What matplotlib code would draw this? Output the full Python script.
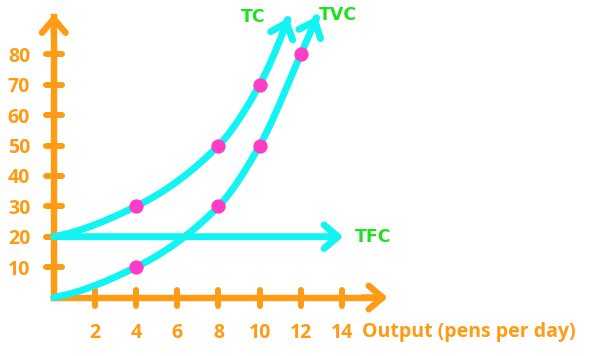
import numpy as np
import matplotlib
matplotlib.use('Agg')
import matplotlib.pyplot as plt
from matplotlib.patches import FancyArrowPatch
from matplotlib.path import Path
from matplotlib.markers import MarkerStyle

# ---- data ----
tvc_output = [0, 4, 8, 10, 12]
tvc = [0, 10, 30, 50, 80]
tc_output = [0, 4, 8, 10]
tc = [20, 30, 50, 70]
tfc_value = 20
tfc_end = 14.2
tc_tip = (11.4, 92.0)
tvc_tip = (12.8, 92.5)
x_ticks = [2, 4, 6, 8, 10, 12, 14]
y_ticks = [10, 20, 30, 40, 50, 60, 70, 80]
x_axis_end = 16.35
y_axis_end = 94.2
x_label = 'Output (pens per day)'
curve_labels = ['TC', 'TVC', 'TFC']

ORANGE = '#FF9A14'
CYAN = '#12F4F4'
MAGENTA = '#FF3CC8'
GREEN = '#1EE01E'


def pchip(xs, ys, n=400):
    """Monotone piecewise cubic Hermite interpolation (for drawing a smooth line)."""
    x = np.asarray(xs, float)
    y = np.asarray(ys, float)
    h = np.diff(x)
    d = np.diff(y) / h
    k = len(x)
    m = np.zeros(k)
    for i in range(1, k - 1):
        if d[i - 1] * d[i] <= 0:
            m[i] = 0
        else:
            w1 = 2 * h[i] + h[i - 1]
            w2 = h[i] + 2 * h[i - 1]
            m[i] = (w1 + w2) / (w1 / d[i - 1] + w2 / d[i])

    def end_slope(h0, h1, d0, d1):
        s = ((2 * h0 + h1) * d0 - h0 * d1) / (h0 + h1)
        if np.sign(s) != np.sign(d0):
            s = 0
        elif np.sign(d0) != np.sign(d1) and abs(s) > abs(3 * d0):
            s = 3 * d0
        return s

    m[0] = end_slope(h[0], h[1], d[0], d[1])
    m[-1] = end_slope(h[-1], h[-2], d[-1], d[-2])
    xx = np.linspace(x[0], x[-1], n)
    idx = np.clip(np.searchsorted(x, xx) - 1, 0, k - 2)
    t = (xx - x[idx]) / h[idx]
    h00 = 2 * t ** 3 - 3 * t ** 2 + 1
    h10 = t ** 3 - 2 * t ** 2 + t
    h01 = -2 * t ** 3 + 3 * t ** 2
    h11 = t ** 3 - t ** 2
    yy = (h00 * y[idx] + h10 * h[idx] * m[idx] + h01 * y[idx + 1]
          + h11 * h[idx] * m[idx + 1])
    return xx, yy


fig = plt.figure(figsize=(5.91, 3.56), dpi=100)
ax = fig.add_axes([0, 0, 1, 1])
ax.set_xlim(-2.614, 26.10)
ax.set_ylim(-19.24, 97.86)

for s in ['top', 'right']:
    ax.spines[s].set_visible(False)
for s in ['left', 'bottom']:
    ax.spines[s].set_position(('data', 0))
    ax.spines[s].set_color(ORANGE)
    ax.spines[s].set_linewidth(4.6)
    ax.spines[s].set_capstyle('projecting')
    ax.spines[s].set_zorder(2)
ax.spines['left'].set_bounds(0, y_axis_end - 2)
ax.spines['bottom'].set_bounds(0, x_axis_end - 0.5)

tick_font = dict(family='Open Sans', weight='bold', size=14)
ax.set_xticks(x_ticks)
ax.set_xticklabels([str(v) for v in x_ticks], fontdict=tick_font)
ax.set_yticks(y_ticks)
ax.set_yticklabels([str(v) for v in y_ticks], fontdict=tick_font)
ax.tick_params(axis='both', direction='inout', length=12, width=4.3,
               color=ORANGE, labelcolor=ORANGE)
ax.tick_params(axis='x', pad=12)
ax.tick_params(axis='y', pad=11)
for t in ax.xaxis.get_major_ticks():
    t.tick1line.set_marker(MarkerStyle('|', capstyle='round'))
for t in ax.yaxis.get_major_ticks():
    t.tick1line.set_marker(MarkerStyle('_', capstyle='round'))

arrow_style = '->,head_length=10,head_width=8.5'
# axis arrowheads
for a, b in [((0, y_axis_end - 8), (0, y_axis_end)),
             ((x_axis_end - 1.5, 0), (x_axis_end, 0))]:
    ax.add_patch(FancyArrowPatch(a, b, arrowstyle=arrow_style, mutation_scale=1,
                                 lw=4.6, color=ORANGE, capstyle='round',
                                 joinstyle='round', zorder=3))

# TFC
ax.add_patch(FancyArrowPatch((0, tfc_value), (tfc_end, tfc_value),
                             arrowstyle=arrow_style, mutation_scale=1, lw=5,
                             color=CYAN, capstyle='round', joinstyle='round',
                             zorder=4))

# TC and TVC curves
for xs, ys, tip in [(tc_output, tc, tc_tip), (tvc_output, tvc, tvc_tip)]:
    xx, yy = pchip(list(xs) + [tip[0]], list(ys) + [tip[1]])
    p = FancyArrowPatch(path=Path(np.column_stack([xx, yy])),
                        arrowstyle=arrow_style, mutation_scale=1, lw=5,
                        color=CYAN, capstyle='round', joinstyle='round', zorder=4)
    ax.add_patch(p)
    ax.plot(xs[1:], ys[1:], 'o', ms=10.3, color=MAGENTA, mec='none', zorder=5)

lab_font = dict(family='DejaVu Sans', weight='bold', size=12.5, color=GREEN)
ax.text(9.68, 92.3, curve_labels[0], ha='center', va='center', **lab_font)
ax.text(13.8, 92.9, curve_labels[1], ha='center', va='center', **lab_font)
ax.text(14.63, 19.9, curve_labels[2], ha='left', va='center', **lab_font)

ax.text(14.97, -11.25, x_label, ha='left', va='center', color=ORANGE, **tick_font)

fig.savefig('out.png', dpi=100)
